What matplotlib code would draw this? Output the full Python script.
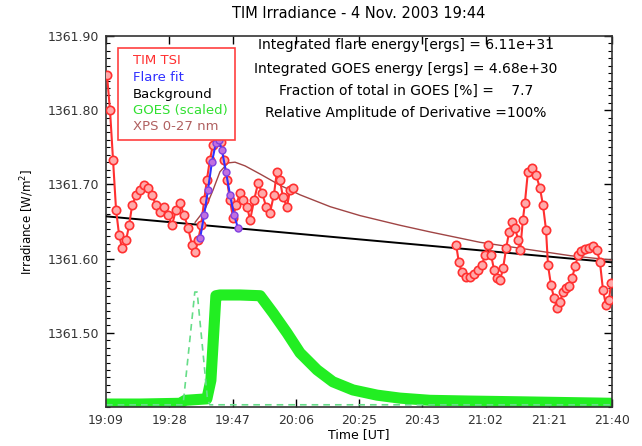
import matplotlib
matplotlib.use("Agg")
import matplotlib.pyplot as plt
import numpy as np
from matplotlib.patches import Rectangle
from matplotlib.ticker import MultipleLocator

# tiempo en minutos desde 19:09 UT
t_tsi_1 = [0.3, 1.2, 2.1, 3.0, 3.9, 4.8, 6.0, 6.9, 7.8, 9.0, 10.2, 11.3, 12.5, 13.7,
           14.9, 16.1, 17.3, 18.5, 19.7, 20.9, 22.1, 23.3, 24.5, 25.7, 26.6, 27.5,
           28.4, 29.3, 30.1, 31.0, 31.9, 33.1, 34.3, 35.2, 36.1, 37.0, 37.9, 38.8,
           40.0, 40.9, 42.1, 43.0, 44.2, 45.4, 46.6, 47.8, 48.9, 50.1, 51.0, 51.9,
           52.8, 54.0, 54.9, 55.8]
tsi_1 = [1361.847, 1361.800, 1361.733, 1361.666, 1361.632, 1361.614, 1361.625,
         1361.645, 1361.672, 1361.686, 1361.692, 1361.699, 1361.695, 1361.686,
         1361.672, 1361.663, 1361.670, 1361.659, 1361.645, 1361.666, 1361.675,
         1361.659, 1361.641, 1361.618, 1361.609, 1361.625, 1361.645, 1361.679,
         1361.706, 1361.733, 1361.753, 1361.763, 1361.757, 1361.733, 1361.706,
         1361.679, 1361.655, 1361.672, 1361.688, 1361.679, 1361.670, 1361.652,
         1361.679, 1361.702, 1361.688, 1361.670, 1361.661, 1361.686, 1361.717,
         1361.706, 1361.683, 1361.670, 1361.692, 1361.695]

t_tsi_2 = [104.5, 105.3, 106.2, 107.4, 108.6, 109.8, 111.0, 112.2, 113.1, 114.0,
           114.9, 115.8, 116.7, 117.6, 118.5, 119.4, 120.3, 121.2, 122.1, 123.0,
           123.6, 124.4, 125.0, 125.9, 127.1, 128.3, 129.5, 130.4, 131.3, 131.9,
           132.8, 133.7, 134.6, 135.5, 136.4, 137.3, 138.2, 139.1, 140.0, 140.9,
           141.8, 142.9, 144.1, 145.3, 146.5, 147.4, 148.3, 149.2, 150.1, 150.7]
tsi_2 = [1361.618, 1361.595, 1361.582, 1361.575, 1361.575, 1361.579, 1361.585,
         1361.591, 1361.605, 1361.618, 1361.605, 1361.585, 1361.574, 1361.571,
         1361.587, 1361.614, 1361.636, 1361.649, 1361.641, 1361.625, 1361.612,
         1361.652, 1361.675, 1361.717, 1361.722, 1361.713, 1361.695, 1361.672,
         1361.639, 1361.591, 1361.564, 1361.547, 1361.533, 1361.542, 1361.555,
         1361.560, 1361.563, 1361.574, 1361.590, 1361.605, 1361.610, 1361.613,
         1361.614, 1361.617, 1361.612, 1361.595, 1361.558, 1361.537, 1361.544,
         1361.567]

t_fit = [28.1, 29.3, 30.4, 31.6, 32.8, 33.7, 34.6, 35.8, 37.0, 38.2, 39.4]
fit = [1361.628, 1361.659, 1361.692, 1361.730, 1361.756, 1361.760, 1361.746,
       1361.717, 1361.686, 1361.659, 1361.641]

t_bkg = [0.0, 151.0]
bkg = [1361.657, 1361.595]

t_model = [26.6, 29.5, 31.9, 34.0, 36.4, 38.5, 41.5, 46.0, 51.9, 57.9, 66.9, 75.8,
           87.7, 96.7, 111.6, 126.5, 138.5, 151.0]
model = [1361.649, 1361.666, 1361.692, 1361.717, 1361.729, 1361.730, 1361.725,
         1361.714, 1361.699, 1361.686, 1361.670, 1361.658, 1361.645, 1361.636,
         1361.622, 1361.612, 1361.604, 1361.598]

t_goes = [0.0, 10.2, 22.1, 23.6, 30.1, 31.3, 32.2, 32.8, 34.0, 40.0, 46.0, 49.8,
          54.0, 57.9, 63.0, 67.7, 73.7, 80.9, 87.7, 96.7, 108.6, 123.6, 151.0]
goes = [1361.404, 1361.404, 1361.405, 1361.409, 1361.411, 1361.436, 1361.504,
        1361.550, 1361.551, 1361.551, 1361.550, 1361.527, 1361.500, 1361.473,
        1361.450, 1361.434, 1361.423, 1361.416, 1361.412, 1361.409, 1361.408,
        1361.407, 1361.405]

t_xps = [0.0, 23.0, 26.5, 27.2, 30.3, 31.0, 151.0]
xps = [1361.403, 1361.403, 1361.555, 1361.555, 1361.410, 1361.403, 1361.403]

xtick_labels = ['19:09', '19:28', '19:47', '20:06', '20:25', '20:43', '21:02', '21:21', '21:40']
ytick_vals = [1361.50, 1361.60, 1361.70, 1361.80, 1361.90]

leyenda = ['TIM TSI', 'Flare fit', 'Background', 'GOES (scaled)', 'XPS 0-27 nm']
col_leyenda = ['#ff3030', '#3030ff', 'black', '#30e030', '#b06060']

textos = ['Integrated flare energy [ergs] = 6.11e+31',
          'Integrated GOES energy [ergs] = 4.68e+30',
          'Fraction of total in GOES [%] =    7.7',
          'Relative Amplitude of Derivative =100%']

fig = plt.figure(figsize=(6.42, 4.46), dpi=100)
ax = fig.add_axes([0.1651, 0.0874, 0.7882, 0.8318])

ax.plot(t_goes, goes, color='#22ee22', linewidth=8, solid_capstyle='butt',
        solid_joinstyle='round', zorder=2)
ax.plot(t_xps, xps, color='#66dd88', linewidth=1.2, linestyle=(0, (4, 3)), zorder=2)
ax.plot(t_bkg, bkg, color='black', linewidth=1.4, zorder=3)
ax.plot(t_model, model, color='#a04545', linewidth=1.0, zorder=3)
for tt, vv in [(t_tsi_1, tsi_1), (t_tsi_2, tsi_2)]:
    ax.plot(tt, vv, color='#ff3030', linewidth=1.5, marker='o', markersize=6,
            markerfacecolor='#ffaaaa', markeredgecolor='#ff3030', markeredgewidth=1.2, zorder=4)
ax.plot(t_fit, fit, color='#3030ff', linewidth=1.5, marker='o', markersize=5,
        markerfacecolor='#c070e0', markeredgecolor='#8040e0', markeredgewidth=1, zorder=5)

ax.set_xlim(0, 151)
ax.set_ylim(1361.40, 1361.90)
ax.set_xticks(np.linspace(0, 151, 9))
ax.set_xticklabels(xtick_labels, fontsize=9, color='#333333')
ax.set_yticks(ytick_vals)
ax.set_yticklabels([f'{v:.2f}' for v in ytick_vals], fontsize=9, color='#333333')
ax.yaxis.set_minor_locator(MultipleLocator(0.01))
ax.tick_params(direction='in', top=True, right=True, length=6, width=1, pad=5)
ax.tick_params(which='minor', direction='in', right=True, length=3, width=0.8)
for s in ax.spines.values():
    s.set_linewidth(1.2)
    s.set_color('#333333')

ax.set_xlabel('Time [UT]', fontsize=9, labelpad=1)
ax.set_ylabel('Irradiance [W/m$^2$]', fontsize=8.5, labelpad=8)
fig.text(0.559, 0.969, 'TIM Irradiance - 4 Nov. 2003 19:44', ha='center', va='center', fontsize=10.5)

# cuadro de leyenda
ax.add_patch(Rectangle((0.0237, 0.7197), 0.2313, 0.248, transform=ax.transAxes,
                       facecolor='white', edgecolor='#ff4040', linewidth=1.2, zorder=6))
y_ley = [0.935, 0.887, 0.8437, 0.798, 0.755]
for lab, c, yy in zip(leyenda, col_leyenda, y_ley):
    ax.text(0.053, yy, lab, color=c, fontsize=9.5, transform=ax.transAxes, va='center', zorder=7)

y_txt = [0.9757, 0.911, 0.852, 0.792]
for s, yy in zip(textos, y_txt):
    ax.text(0.593, yy, s, fontsize=10, ha='center', va='center', transform=ax.transAxes)

fig.savefig('out.png', dpi=100)
